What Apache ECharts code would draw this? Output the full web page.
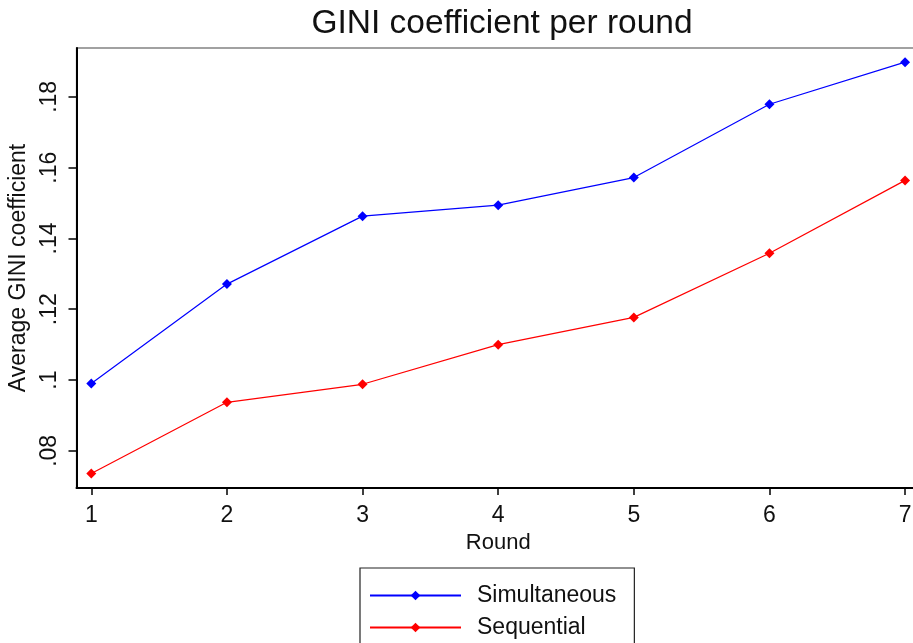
<!DOCTYPE html>
<html>
<head>
<meta charset="utf-8">
<script src="https://cdn.jsdelivr.net/npm/echarts@6/dist/echarts.min.js"></script>
<style>
  html, body { margin: 0; padding: 0; background: #fff; }
  #chart { width: 913px; height: 643px; }
</style>
</head>
<body>
<div id="chart"></div>
<script>
// Rounds and average GINI coefficient per treatment
const rounds = [1, 2, 3, 4, 5, 6, 7];
const simultaneous = [0.0990, 0.1271, 0.1463, 0.1494, 0.1572, 0.1779, 0.1898];
const sequential = [0.0736, 0.0937, 0.0988, 0.1100, 0.1177, 0.1358, 0.1564];
const yTicks = [0.08, 0.10, 0.12, 0.14, 0.16, 0.18];
const yTickLabels = ['.08', '.1', '.12', '.14', '.16', '.18'];

const FONT = '"Liberation Sans", Arial, sans-serif';
const chart = echarts.init(document.getElementById('chart'), null, { renderer: 'canvas' });

function pairs(xs, ys) { return xs.map((x, i) => [x, ys[i]]); }

chart.setOption({
  backgroundColor: '#ffffff',
  animation: false,
  title: {
    text: 'GINI coefficient per round',
    left: 497, top: 2, textAlign: 'center',
    textStyle: { fontFamily: FONT, fontSize: 33.5, fontWeight: 'normal', color: '#111' }
  },
  grid: {
    left: 76.5, top: 48, width: 843.5, height: 440,
    outerBoundsMode: 'none', containLabel: false,
    show: true, borderColor: '#444', borderWidth: 1.2
  },
  xAxis: {
    type: 'value', min: 0.891, max: 7.11,
    name: 'Round', nameLocation: 'middle', nameGap: 42,
    nameTextStyle: { fontFamily: FONT, fontSize: 22, color: '#111' },
    axisLine: { show: true, onZero: false, lineStyle: { color: '#000', width: 2 } },
    axisTick: { show: true, length: 7, lineStyle: { color: '#000', width: 1.5 }, customValues: rounds },
    axisLabel: { margin: 16, fontFamily: FONT, fontSize: 23, color: '#111', customValues: rounds,
      formatter: v => String(v) },
    splitLine: { show: false }
  },
  yAxis: {
    type: 'value', min: 0.0695, max: 0.1938,
    name: 'Average GINI coefficient', nameLocation: 'middle', nameGap: 36, nameRotate: 90,
    nameTextStyle: { fontFamily: FONT, fontSize: 23, color: '#111' },
    axisLine: { show: true, onZero: false, lineStyle: { color: '#000', width: 2 } },
    axisTick: { show: true, length: 8, lineStyle: { color: '#000', width: 1.5 }, customValues: yTicks },
    axisLabel: { margin: 15, rotate: 90, fontFamily: FONT, fontSize: 23, color: '#111', customValues: yTicks,
      formatter: v => yTickLabels[yTicks.findIndex(t => Math.abs(t - v) < 1e-9)] },
    splitLine: { show: false }
  },
  legend: {
    orient: 'vertical', left: 360, top: 568, height: 200,
    borderColor: '#222', borderWidth: 1.2,
    padding: [16, 18, 16, 9],
    itemWidth: 91, itemHeight: 12, itemGap: 9,
    textStyle: { fontFamily: FONT, fontSize: 23, color: '#111', padding: [0, 0, 0, 11] },
    data: ['Simultaneous', 'Sequential']
  },
  series: [
    {
      name: 'Simultaneous', type: 'line', data: pairs(rounds, simultaneous),
      symbol: 'diamond', symbolSize: 10,
      lineStyle: { color: '#0000ff', width: 1.2 },
      itemStyle: { color: '#0000ff' }
    },
    {
      name: 'Sequential', type: 'line', data: pairs(rounds, sequential),
      symbol: 'diamond', symbolSize: 10,
      lineStyle: { color: '#ff0000', width: 1.2 },
      itemStyle: { color: '#ff0000' }
    }
  ]
});
</script>
</body>
</html>
